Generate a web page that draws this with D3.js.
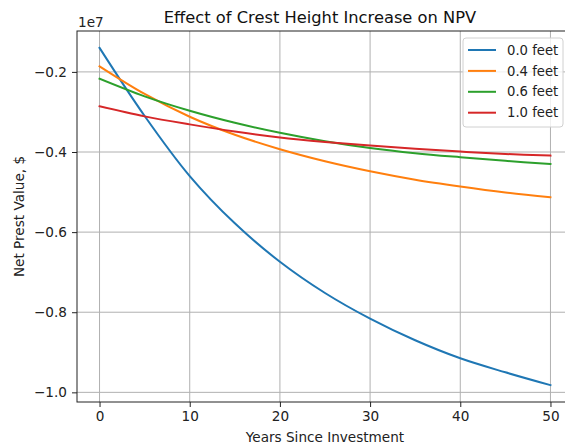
<!DOCTYPE html>
<html>
<head>
<meta charset="utf-8">
<script src="https://cdn.jsdelivr.net/npm/d3@7"></script>
<style>
  html, body { margin: 0; padding: 0; background: #fff; overflow: hidden; }
  svg { display: block; font-family: "DejaVu Sans", sans-serif; }
</style>
</head>
<body>
<svg id="chart" width="565" height="446"></svg>
<script>
// Years since investment (sampled every 5 years)
const years = [0, 5, 10, 15, 20, 25, 30, 35, 40, 45, 50];

// Net present value in dollars for each crest height increase
const npv00 = [-1.40e6, -3.10e6, -4.60e6, -5.78e6, -6.74e6, -7.52e6, -8.16e6, -8.70e6, -9.15e6, -9.50e6, -9.82e6];
const npv04 = [-1.86e6, -2.55e6, -3.12e6, -3.57e6, -3.93e6, -4.23e6, -4.48e6, -4.69e6, -4.86e6, -5.01e6, -5.13e6];
const npv06 = [-2.17e6, -2.61e6, -2.97e6, -3.27e6, -3.52e6, -3.73e6, -3.90e6, -4.03e6, -4.13e6, -4.22e6, -4.30e6];
const npv10 = [-2.86e6, -3.11e6, -3.31e6, -3.49e6, -3.64e6, -3.75e6, -3.84e6, -3.92e6, -3.99e6, -4.05e6, -4.09e6];

const seriesNames = ["0.0 feet", "0.4 feet", "0.6 feet", "1.0 feet"];
const seriesColors = ["#1f77b4", "#ff7f0e", "#2ca02c", "#d62728"];

const xTicks = [0, 10, 20, 30, 40, 50];
const yTicks = [-0.2e7, -0.4e7, -0.6e7, -0.8e7, -1.0e7];

const series = [npv00, npv04, npv06, npv10].map((vals, i) => ({
  name: seriesNames[i],
  color: seriesColors[i],
  points: years.map((t, j) => ({ t, v: vals[j] }))
}));

const svg = d3.select("#chart");
const plot = { left: 77, top: 31, right: 573, bottom: 402 };
const fs = "13.6px";

// Data limits padded by 5% on each side
const allVals = [].concat(npv00, npv04, npv06, npv10);
const [vMin, vMax] = d3.extent(allVals);
const vPad = (vMax - vMin) * 0.05;
const tPad = (d3.max(years) - d3.min(years)) * 0.05;

const x = d3.scaleLinear()
  .domain([d3.min(years) - tPad, d3.max(years) + tPad])
  .range([plot.left, plot.right]);
const y = d3.scaleLinear()
  .domain([vMin - vPad, vMax + vPad])
  .range([plot.bottom, plot.top]);

const fmtY = v => (v / 1e7).toFixed(1).replace("-", "\u2212");

// Grid
const grid = svg.append("g");
grid.selectAll("line.gx").data(xTicks).join("line")
  .attr("x1", d => x(d)).attr("x2", d => x(d))
  .attr("y1", plot.top).attr("y2", plot.bottom)
  .attr("stroke", "#b0b0b0").attr("stroke-width", 1);
grid.selectAll("line.gy").data(yTicks).join("line")
  .attr("x1", plot.left).attr("x2", plot.right)
  .attr("y1", d => y(d)).attr("y2", d => y(d))
  .attr("stroke", "#b0b0b0").attr("stroke-width", 1);

// Lines
const line = d3.line()
  .x(d => x(d.t))
  .y(d => y(d.v))
  .curve(d3.curveCatmullRom.alpha(0.5));

svg.append("g").selectAll("path").data(series).join("path")
  .attr("d", d => line(d.points))
  .attr("fill", "none")
  .attr("stroke", d => d.color)
  .attr("stroke-width", 2)
  .attr("stroke-linecap", "square");

// Axes
const xAxis = d3.axisBottom(x).tickValues(xTicks).tickSize(5).tickPadding(4).tickFormat(d3.format("d"));
const yAxis = d3.axisLeft(y).tickValues(yTicks).tickSize(5).tickPadding(5).tickFormat(fmtY);

const gx = svg.append("g").attr("transform", `translate(0,${plot.bottom})`).call(xAxis);
const gy = svg.append("g").attr("transform", `translate(${plot.left},0)`).call(yAxis);
[gx, gy].forEach(g => {
  g.select(".domain").remove();
  g.selectAll("line").attr("stroke", "#222").attr("stroke-width", 1);
  g.selectAll("text").attr("fill", "#222").style("font-size", fs)
    .style("font-family", "'DejaVu Sans', sans-serif");
});

// Frame
svg.append("rect")
  .attr("x", plot.left).attr("y", plot.top)
  .attr("width", plot.right - plot.left).attr("height", plot.bottom - plot.top)
  .attr("fill", "none").attr("stroke", "#222").attr("stroke-width", 1);

// Offset label
svg.append("text").attr("x", 78).attr("y", 27)
  .attr("fill", "#222").style("font-size", fs).text("1e7");

// Title
svg.append("text").attr("x", 320).attr("y", 23)
  .attr("text-anchor", "middle").attr("fill", "#111")
  .style("font-size", "16.3px").text("Effect of Crest Height Increase on NPV");

// Axis labels
svg.append("text").attr("x", 325).attr("y", 442)
  .attr("text-anchor", "middle").attr("fill", "#222")
  .style("font-size", fs).text("Years Since Investment");
svg.append("text")
  .attr("transform", `translate(24,${(plot.top + plot.bottom) / 2}) rotate(-90)`)
  .attr("text-anchor", "middle").attr("fill", "#222")
  .style("font-size", fs).text("Net Prest Value, $");

// Legend
const legend = svg.append("g").attr("transform", "translate(463,38)");
legend.append("rect")
  .attr("x", 0).attr("y", 0).attr("width", 100).attr("height", 89)
  .attr("rx", 3).attr("fill", "#fff").attr("fill-opacity", 0.8)
  .attr("stroke", "#d0d0d0").attr("stroke-width", 1);
const items = legend.selectAll("g.item").data(series).join("g")
  .attr("transform", (d, i) => `translate(0,${12 + i * 20.9})`);
items.append("line")
  .attr("x1", 5).attr("x2", 33).attr("y1", 0).attr("y2", 0)
  .attr("stroke", d => d.color).attr("stroke-width", 2);
items.append("text")
  .attr("x", 44).attr("y", 0).attr("dy", "0.35em")
  .attr("fill", "#222").style("font-size", "13.2px")
  .text(d => d.name);
</script>
</body>
</html>
